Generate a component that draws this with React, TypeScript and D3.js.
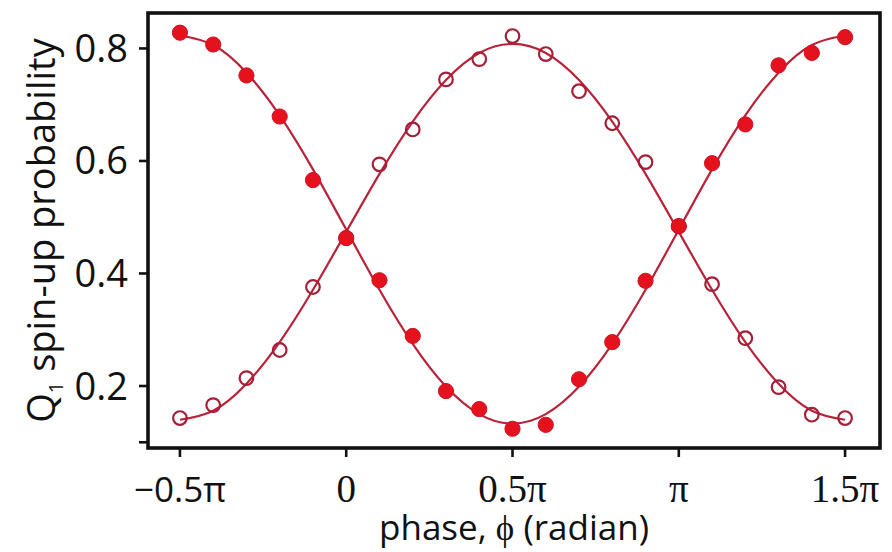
import React from 'react';
import * as d3 from 'd3';

// phase in units of π
const phases = [-0.5, -0.4, -0.3, -0.2, -0.1, 0, 0.1, 0.2, 0.3, 0.4, 0.5, 0.6, 0.7, 0.8, 0.9, 1.0, 1.1, 1.2, 1.3, 1.4, 1.5];
const filledValues = [0.828, 0.807, 0.752, 0.679, 0.566, 0.463, 0.388, 0.289, 0.191, 0.159, 0.124, 0.131, 0.212, 0.278, 0.387, 0.484, 0.596, 0.665, 0.770, 0.792, 0.820];
const openValues = [0.143, 0.166, 0.214, 0.264, 0.376, 0.463, 0.594, 0.656, 0.745, 0.781, 0.822, 0.790, 0.724, 0.667, 0.598, 0.484, 0.381, 0.285, 0.198, 0.149, 0.143];
const fitFilled = [0.823, 0.806, 0.757, 0.681, 0.585, 0.478, 0.371, 0.275, 0.199, 0.150, 0.133, 0.150, 0.199, 0.275, 0.371, 0.478, 0.585, 0.681, 0.757, 0.806, 0.823];
const fitOpen = [0.140, 0.156, 0.204, 0.278, 0.371, 0.474, 0.577, 0.670, 0.744, 0.792, 0.808, 0.792, 0.744, 0.670, 0.577, 0.474, 0.371, 0.278, 0.204, 0.156, 0.140];

const xTicks = [-0.5, 0, 0.5, 1, 1.5];
const xTickLabels = ['\u22120.5\u03c0', '0', '0.5\u03c0', '\u03c0', '1.5\u03c0'];
const yTicks = [0.8, 0.6, 0.4, 0.2, 0.1];
const yTickLabels = ['0.8', '0.6', '0.4', '0.2', ''];

const xDomain = [-0.596, 1.605];
const yDomain = [0.0898, 0.863];

const W = 892;
const H = 552;
const plot = { left: 148, right: 880, top: 13, bottom: 448 };

const LINE = '#b8233a';
const FILL = '#e5121d';
const FILL_STROKE = '#cc1226';
const OPEN_STROKE = '#a51f38';

export default function App() {
  const x = d3.scaleLinear().domain(xDomain).range([plot.left, plot.right]);
  const y = d3.scaleLinear().domain(yDomain).range([plot.bottom, plot.top]);

  const line = d3
    .line<number>()
    .x((_, i) => x(phases[i]))
    .y((d) => y(d))
    .curve(d3.curveNatural);

  const sans = '"Open Sans", "DejaVu Sans", sans-serif';
  const serif = '"Liberation Serif", "DejaVu Serif", serif';

  return (
    <svg
      width={W}
      height={H}
      viewBox={`0 0 ${W} ${H}`}
      style={{ position: 'absolute', left: 0, top: 0, background: '#fff' }}
    >
      <rect x={0} y={0} width={W} height={H} fill="#fff" />

      {/* fit curves */}
      <path d={line(fitFilled) || ''} fill="none" stroke={LINE} strokeWidth={2.2} />
      <path d={line(fitOpen) || ''} fill="none" stroke={LINE} strokeWidth={2.2} />

      {/* open markers */}
      {openValues.map((v, i) => (
        <circle
          key={'o' + i}
          cx={x(phases[i])}
          cy={y(v)}
          r={6.8}
          fill="none"
          stroke={OPEN_STROKE}
          strokeWidth={2.2}
        />
      ))}
      {/* filled markers */}
      {filledValues.map((v, i) => (
        <circle
          key={'f' + i}
          cx={x(phases[i])}
          cy={y(v)}
          r={7.6}
          fill={FILL}
          stroke={FILL_STROKE}
          strokeWidth={1}
        />
      ))}

      {/* frame */}
      <rect
        x={plot.left}
        y={plot.top}
        width={plot.right - plot.left}
        height={plot.bottom - plot.top}
        fill="none"
        stroke="#111"
        strokeWidth={3.6}
      />

      {/* y ticks */}
      {yTicks.map((t, i) => (
        <g key={'yt' + i}>
          <line x1={plot.left - 9} x2={plot.left} y1={y(t)} y2={y(t)} stroke="#111" strokeWidth={2.6} />
          {yTickLabels[i] && (
            <text
              x={plot.left - 20}
              y={y(t) + 13.5}
              textAnchor="end"
              fontFamily={sans}
              fontSize={38}
              fill="#111"
            >
              {yTickLabels[i]}
            </text>
          )}
        </g>
      ))}

      {/* x ticks */}
      {xTicks.map((t, i) => (
        <g key={'xt' + i}>
          <line x1={x(t)} x2={x(t)} y1={plot.bottom} y2={plot.bottom + 9} stroke="#111" strokeWidth={2.6} />
          <text
            x={x(t)}
            y={502}
            textAnchor="middle"
            fontFamily={i === 0 ? sans : serif}
            fontSize={i === 0 ? 35 : 39}
            fill="#111"
          >
            {xTickLabels[i]}
          </text>
        </g>
      ))}

      {/* axis titles */}
      <text
        x={(plot.left + plot.right) / 2}
        y={540}
        textAnchor="middle"
        fontFamily={sans}
        fontSize={35}
        fill="#111"
      >
        phase, <tspan fontFamily={serif}>{'\u03d5'}</tspan> (radian)
      </text>
      <text
        transform={`translate(55, ${(plot.top + plot.bottom) / 2}) rotate(-90)`}
        textAnchor="middle"
        fontFamily={sans}
        fontSize={38}
        fill="#111"
      >
        Q<tspan fontSize={20} dy={8}>1</tspan>
        <tspan dy={-8}> spin-up probability</tspan>
      </text>
    </svg>
  );
}
